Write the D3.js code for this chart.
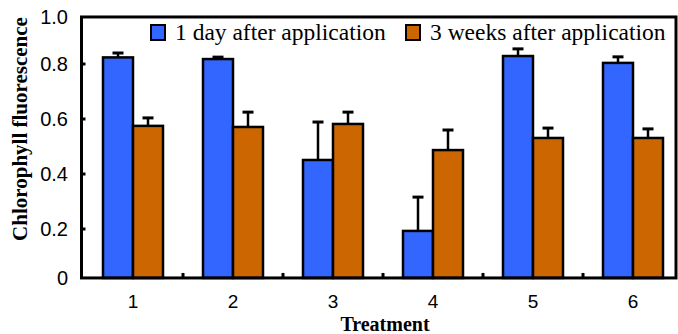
<!DOCTYPE html>
<html>
<head>
<meta charset="utf-8">
<script src="https://cdn.jsdelivr.net/npm/d3@7"></script>
<style>
  body { margin: 0; background: #fff; }
</style>
</head>
<body>
<div id="chart"></div>
<script>
const width = 678;
const height = 334;

const categories = ["1", "2", "3", "4", "5", "6"];
const series = ["1 day after application", "3 weeks after application"];
const day1 = [0.824, 0.818, 0.451, 0.193, 0.829, 0.804];
const day1Err = [0.016, 0.007, 0.138, 0.123, 0.026, 0.022];
const week3 = [0.575, 0.571, 0.582, 0.487, 0.531, 0.531];
const week3Err = [0.029, 0.054, 0.043, 0.073, 0.036, 0.033];
const yTicks = [0.2, 0.4, 0.6, 0.8];
const yEndLabels = ["0", "1.0"];
const colors = ["#3366ff", "#cc6600"];

// axis box ends a little inside the 0..1 range of the ticks
const yExtent = [0.022, 0.971];

const y = d3.scaleLinear().domain([0, 1]).range([284, 9]);
const x = d3.scaleBand().domain(categories).range([83, 683]);
const xSub = d3.scaleBand().domain(series)
  .range([x.bandwidth() / 2 - 30, x.bandwidth() / 2 + 30]);

const frame = { left: 81.5, right: 676, top: y(yExtent[1]), bottom: y(yExtent[0]) };

const data = categories.flatMap((c, i) => [
  { cat: c, s: series[0], v: day1[i], e: day1Err[i], color: colors[0] },
  { cat: c, s: series[1], v: week3[i], e: week3Err[i], color: colors[1] }
]);

const svg = d3.select("#chart").append("svg")
  .attr("width", width)
  .attr("height", height)
  .attr("viewBox", [0, 0, width, height]);

// error bars (drawn first so bar outline covers the base)
const err = svg.append("g").attr("stroke", "#000");
err.selectAll("line.stem")
  .data(data)
  .join("line")
  .attr("class", "stem")
  .attr("x1", d => x(d.cat) + xSub(d.s) + xSub.bandwidth() / 2)
  .attr("x2", d => x(d.cat) + xSub(d.s) + xSub.bandwidth() / 2)
  .attr("y1", d => y(d.v))
  .attr("y2", d => y(d.v + d.e))
  .attr("stroke-width", 2.5);
err.selectAll("line.cap")
  .data(data)
  .join("line")
  .attr("class", "cap")
  .attr("x1", d => x(d.cat) + xSub(d.s) + xSub.bandwidth() / 2 - 5.5)
  .attr("x2", d => x(d.cat) + xSub(d.s) + xSub.bandwidth() / 2 + 5.5)
  .attr("y1", d => y(d.v + d.e))
  .attr("y2", d => y(d.v + d.e))
  .attr("stroke-width", 3);

// bars
svg.append("g")
  .selectAll("rect")
  .data(data)
  .join("rect")
  .attr("x", d => x(d.cat) + xSub(d.s))
  .attr("y", d => y(d.v))
  .attr("width", xSub.bandwidth())
  .attr("height", d => frame.bottom - y(d.v))
  .attr("fill", d => d.color)
  .attr("stroke", "#000")
  .attr("stroke-width", 2.5);

// axis box
svg.append("rect")
  .attr("x", frame.left)
  .attr("y", frame.top)
  .attr("width", frame.right - frame.left)
  .attr("height", frame.bottom - frame.top)
  .attr("fill", "none")
  .attr("stroke", "#000")
  .attr("stroke-width", 3);

// y ticks, inside
svg.append("g")
  .selectAll("line")
  .data(yTicks)
  .join("line")
  .attr("x1", frame.left)
  .attr("x2", frame.left + 4)
  .attr("y1", d => y(d))
  .attr("y2", d => y(d))
  .attr("stroke", "#000")
  .attr("stroke-width", 3);

const labelFont = "'Liberation Sans', Arial, sans-serif";

svg.append("g")
  .attr("font-family", labelFont)
  .attr("font-size", 20)
  .attr("text-anchor", "end")
  .selectAll("text")
  .data(yTicks.map(d => ({ v: d, t: d.toFixed(1) }))
    .concat([{ v: yExtent[0], t: yEndLabels[0] }, { v: yExtent[1], t: yEndLabels[1] }]))
  .join("text")
  .attr("x", 68)
  .attr("y", d => y(d.v))
  .attr("dy", "0.35em")
  .text(d => d.t);

// x ticks between categories
svg.append("g")
  .selectAll("line")
  .data(categories.slice(1))
  .join("line")
  .attr("x1", d => x(d))
  .attr("x2", d => x(d))
  .attr("y1", frame.bottom)
  .attr("y2", frame.bottom - 5)
  .attr("stroke", "#000")
  .attr("stroke-width", 3);

svg.append("g")
  .attr("font-family", labelFont)
  .attr("font-size", 19)
  .attr("text-anchor", "middle")
  .selectAll("text")
  .data(categories)
  .join("text")
  .attr("x", d => x(d) + x.bandwidth() / 2)
  .attr("y", 308)
  .text(d => d);

// axis titles
const titleFont = "'Liberation Serif', 'Times New Roman', serif";
svg.append("text")
  .attr("x", 385)
  .attr("y", 331)
  .attr("text-anchor", "middle")
  .attr("font-family", titleFont)
  .attr("font-weight", "bold")
  .attr("font-size", 20)
  .text("Treatment");

svg.append("text")
  .attr("transform", "translate(27,129) rotate(-90)")
  .attr("text-anchor", "middle")
  .attr("font-family", titleFont)
  .attr("font-weight", "bold")
  .attr("font-size", 21)
  .text("Chlorophyll fluorescence");

// legend
const legendX = [150, 405];
const legend = svg.append("g")
  .selectAll("g")
  .data(series)
  .join("g")
  .attr("transform", (d, i) => `translate(${legendX[i]},24)`);
legend.append("rect")
  .attr("x", 1)
  .attr("y", 1)
  .attr("width", 14)
  .attr("height", 15)
  .attr("fill", (d, i) => colors[i])
  .attr("stroke", "#000")
  .attr("stroke-width", 2);
legend.append("text")
  .attr("x", 25)
  .attr("y", 16)
  .attr("font-family", titleFont)
  .attr("font-size", 23.5)
  .text(d => d);
</script>
</body>
</html>
